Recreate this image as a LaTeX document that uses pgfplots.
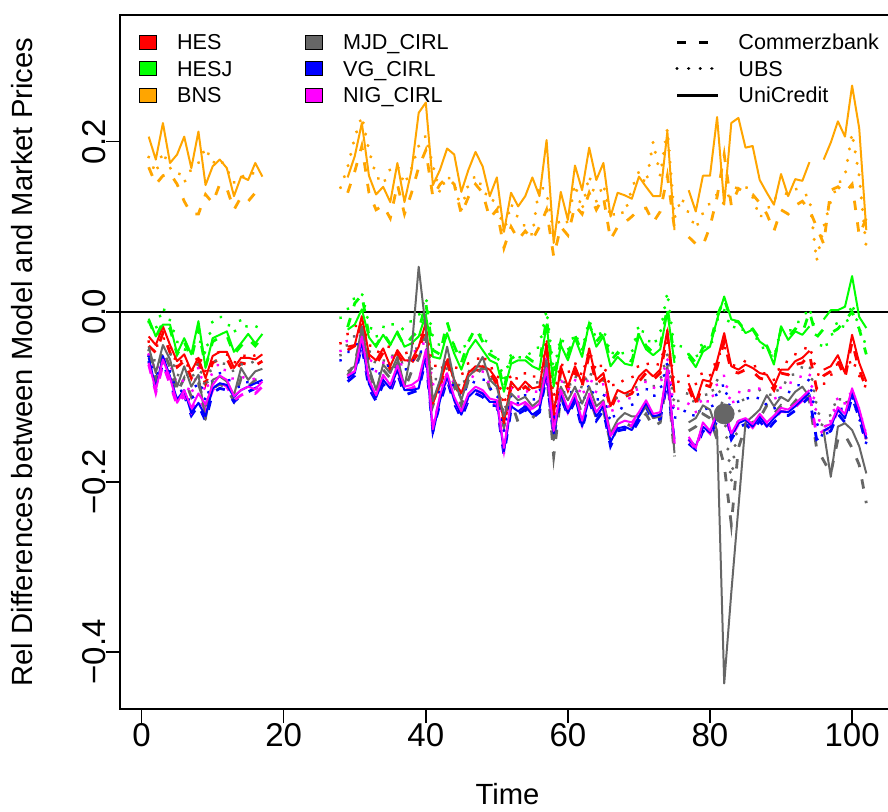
\documentclass[border=0pt]{standalone}
\usepackage{fontspec}
\setmainfont{Liberation Sans}
\usepackage{pgfplots}
\usepackage{pgfplotstable}
\pgfplotsset{compat=1.18}

\definecolor{cHES}{HTML}{FF0000}
\definecolor{cHESJ}{HTML}{00FF00}
\definecolor{cBNS}{HTML}{FFA500}
\definecolor{cMJD}{HTML}{666666}
\definecolor{cVG}{HTML}{0000FF}
\definecolor{cNIG}{HTML}{FF00FF}

% UniCredit (solid)
\pgfplotstableread{
t hes hesj bns mjd vg nig
1 -0.029 -0.008 0.206 -0.041 -0.054 -0.060
2 -0.039 -0.029 0.179 -0.072 -0.090 -0.092
3 -0.017 -0.015 0.222 -0.039 -0.052 -0.056
4 -0.039 -0.015 0.175 -0.056 -0.076 -0.078
5 -0.058 -0.049 0.185 -0.088 -0.103 -0.107
6 -0.050 -0.031 0.206 -0.064 -0.092 -0.092
7 -0.070 -0.050 0.169 -0.088 -0.119 -0.113
8 -0.054 -0.011 0.212 -0.074 -0.107 -0.096
9 -0.078 -0.066 0.149 -0.127 -0.123 -0.109
10 -0.052 -0.031 0.171 -0.080 -0.090 -0.086
11 -0.047 -0.027 0.179 -0.076 -0.084 -0.075
12 -0.047 -0.023 0.169 -0.082 -0.086 -0.080
13 -0.066 -0.047 0.136 -0.098 -0.100 -0.099
14 -0.054 -0.037 0.159 -0.066 -0.092 -0.092
15 -0.054 -0.026 0.155 -0.080 -0.088 -0.088
16 -0.056 -0.037 0.175 -0.070 -0.084 -0.091
17 -0.050 -0.026 0.159 -0.067 -0.080 -0.082
20 nan nan nan nan nan nan
29 -0.041 -0.021 0.158 -0.070 -0.078 -0.075
30 -0.039 -0.015 0.183 -0.064 -0.072 -0.070
31 -0.005 0.003 0.222 -0.017 -0.035 -0.029
32 -0.050 -0.030 0.160 -0.065 -0.085 -0.080
33 -0.057 -0.041 0.138 -0.092 -0.101 -0.098
34 -0.043 -0.027 0.147 -0.062 -0.080 -0.074
35 -0.064 -0.039 0.129 -0.072 -0.090 -0.086
36 -0.045 -0.023 0.175 -0.053 -0.068 -0.063
37 -0.057 -0.041 0.129 -0.088 -0.092 -0.088
38 -0.057 -0.037 0.167 -0.045 -0.092 -0.086
39 -0.041 -0.029 0.234 0.053 -0.090 -0.080
40 -0.013 -0.003 0.246 -0.020 -0.049 -0.045
41 -0.108 -0.053 0.149 -0.105 -0.143 -0.138
42 -0.084 -0.055 0.167 -0.080 -0.104 -0.098
43 -0.057 -0.025 0.192 -0.041 -0.076 -0.072
44 -0.080 -0.049 0.185 -0.080 -0.104 -0.100
45 -0.096 -0.068 0.141 -0.104 -0.121 -0.117
46 -0.072 -0.045 0.167 -0.076 -0.100 -0.096
47 -0.064 -0.033 0.188 -0.068 -0.092 -0.088
48 -0.064 -0.045 0.171 -0.053 -0.096 -0.092
49 -0.068 -0.057 0.136 -0.080 -0.106 -0.102
50 -0.080 -0.061 0.158 -0.088 -0.106 -0.104
51 -0.131 -0.094 0.094 -0.123 -0.164 -0.160
52 -0.082 -0.061 0.140 -0.096 -0.111 -0.106
53 -0.092 -0.057 0.124 -0.104 -0.117 -0.110
54 -0.082 -0.057 0.136 -0.100 -0.111 -0.106
55 -0.090 -0.064 0.158 -0.111 -0.121 -0.114
56 -0.088 -0.068 0.136 -0.104 -0.115 -0.108
57 -0.037 -0.015 0.202 -0.057 -0.070 -0.066
58 -0.121 -0.088 0.081 -0.151 -0.143 -0.140
59 -0.064 -0.039 0.141 -0.088 -0.096 -0.092
60 -0.088 -0.057 0.108 -0.104 -0.119 -0.114
61 -0.064 -0.031 0.172 -0.088 -0.100 -0.096
62 -0.084 -0.053 0.143 -0.108 -0.135 -0.128
63 -0.043 -0.013 0.193 -0.088 -0.100 -0.096
64 -0.080 -0.041 0.155 -0.111 -0.123 -0.118
65 -0.072 -0.029 0.175 -0.104 -0.111 -0.106
66 -0.111 -0.064 0.112 -0.143 -0.153 -0.146
67 -0.092 -0.053 0.140 -0.127 -0.137 -0.132
68 -0.096 -0.061 0.137 -0.119 -0.135 -0.128
69 -0.092 -0.063 0.133 -0.123 -0.139 -0.130
70 -0.076 -0.027 0.159 -0.123 -0.123 -0.118
71 -0.068 -0.044 0.147 -0.111 -0.107 -0.104
72 -0.076 -0.051 0.136 -0.125 -0.123 -0.120
73 -0.068 -0.044 0.136 -0.123 -0.121 -0.118
74 -0.021 0.000 0.212 -0.064 -0.076 -0.068
75 -0.095 -0.060 0.096 -0.166 -0.150 -0.154
76 nan nan nan nan nan nan
77 -0.084 -0.053 0.143 -0.130 -0.150 -0.147
78 -0.106 -0.065 0.118 -0.125 -0.158 -0.160
79 -0.080 -0.047 0.160 -0.110 -0.135 -0.130
80 -0.082 -0.041 0.160 -0.115 -0.142 -0.140
81 -0.058 -0.009 0.229 -0.140 -0.123 -0.118
82 -0.025 0.018 0.126 -0.437 -0.115 -0.112
83 -0.064 -0.009 0.222 -0.330 -0.146 -0.143
84 -0.068 -0.011 0.228 -0.230 -0.131 -0.128
85 -0.062 -0.025 0.193 -0.130 -0.127 -0.125
86 -0.066 -0.021 0.195 -0.123 -0.135 -0.132
87 -0.072 -0.035 0.155 -0.115 -0.123 -0.120
88 -0.074 -0.041 0.140 -0.098 -0.135 -0.130
89 -0.088 -0.062 0.126 -0.111 -0.125 -0.122
90 -0.068 -0.017 0.162 -0.100 -0.117 -0.113
91 -0.068 -0.033 0.136 -0.105 -0.118 -0.115
92 -0.058 -0.023 0.156 -0.094 -0.111 -0.108
93 -0.054 -0.027 0.154 -0.088 -0.103 -0.100
94 -0.046 -0.017 0.176 -0.100 -0.095 -0.092
95 nan nan nan nan nan nan
96 -0.068 -0.009 0.179 -0.140 -0.140 -0.135
97 -0.064 0.002 0.199 -0.194 -0.135 -0.132
98 -0.051 0.002 0.224 -0.135 -0.115 -0.112
99 -0.072 0.006 0.206 -0.131 -0.125 -0.120
100 -0.027 0.042 0.266 -0.139 -0.095 -0.090
101 -0.060 -0.006 0.216 -0.158 -0.119 -0.114
102 -0.082 -0.019 0.096 -0.190 -0.149 -0.145
}\uc

% UBS (dotted)
\pgfplotstableread{
t hes hesj bns mjd vg nig
1 -0.035 -0.012 0.182 -0.045 -0.052 -0.050
2 -0.042 -0.020 0.163 -0.060 -0.075 -0.070
3 -0.030 0.005 0.188 -0.050 -0.060 -0.055
4 -0.040 -0.010 0.169 -0.048 -0.070 -0.062
5 -0.062 -0.035 0.167 -0.075 -0.090 -0.085
6 -0.055 -0.045 0.152 -0.070 -0.095 -0.080
7 -0.072 -0.040 0.168 -0.080 -0.108 -0.098
8 -0.050 -0.030 0.175 -0.060 -0.075 -0.065
9 -0.070 -0.050 0.193 -0.090 -0.105 -0.095
10 -0.058 -0.010 0.175 -0.060 -0.080 -0.070
11 -0.045 -0.005 0.180 -0.055 -0.072 -0.060
12 -0.050 -0.012 0.168 -0.065 -0.078 -0.072
13 -0.060 -0.025 0.152 -0.070 -0.085 -0.080
14 -0.055 -0.008 0.160 -0.062 -0.090 -0.078
15 -0.048 -0.020 0.158 -0.058 -0.082 -0.075
16 -0.052 -0.018 0.165 -0.060 -0.085 -0.080
17 -0.050 -0.015 0.160 -0.062 -0.080 -0.076
20 nan nan nan nan nan nan
28 -0.037 -0.007 0.146 -0.051 -0.057 -0.046
29 -0.026 0.003 0.170 -0.038 -0.048 -0.033
30 -0.018 0.017 0.205 -0.028 -0.040 -0.030
31 -0.010 0.022 0.230 -0.020 -0.035 -0.025
32 -0.038 -0.015 0.190 -0.045 -0.060 -0.052
33 -0.048 -0.030 0.160 -0.062 -0.075 -0.070
34 -0.045 -0.018 0.150 -0.058 -0.070 -0.060
35 -0.040 -0.012 0.168 -0.050 -0.060 -0.052
36 -0.048 -0.020 0.172 -0.055 -0.068 -0.058
37 -0.052 -0.020 0.150 -0.062 -0.070 -0.065
38 -0.038 -0.010 0.169 -0.050 -0.058 -0.050
39 -0.030 -0.005 0.195 -0.040 -0.050 -0.042
40 -0.020 0.018 0.207 -0.030 -0.040 -0.035
41 -0.060 -0.030 0.172 -0.075 -0.090 -0.085
42 -0.070 -0.040 0.140 -0.085 -0.095 -0.090
43 -0.055 -0.028 0.160 -0.065 -0.080 -0.072
44 -0.062 -0.038 0.150 -0.078 -0.088 -0.082
45 -0.075 -0.050 0.120 -0.090 -0.100 -0.095
46 -0.060 -0.030 0.150 -0.070 -0.085 -0.078
47 -0.058 -0.032 0.160 -0.068 -0.082 -0.075
48 -0.050 -0.025 0.146 -0.060 -0.078 -0.070
49 -0.065 -0.045 0.130 -0.078 -0.090 -0.085
50 -0.070 -0.050 0.132 -0.082 -0.095 -0.088
51 -0.110 -0.080 0.093 -0.120 -0.140 -0.130
52 -0.072 -0.050 0.127 -0.085 -0.098 -0.090
53 -0.080 -0.055 0.110 -0.092 -0.108 -0.100
54 -0.072 -0.048 0.100 -0.085 -0.098 -0.092
55 -0.078 -0.050 0.090 -0.090 -0.105 -0.098
56 -0.070 -0.040 0.150 -0.080 -0.095 -0.090
57 -0.030 0.002 0.140 -0.050 -0.060 -0.055
58 -0.100 -0.070 0.093 -0.115 -0.130 -0.120
59 -0.060 -0.030 0.110 -0.075 -0.090 -0.080
60 -0.072 -0.045 0.105 -0.090 -0.100 -0.092
61 -0.060 -0.025 0.150 -0.075 -0.088 -0.080
62 -0.075 -0.045 0.120 -0.090 -0.110 -0.100
63 -0.045 -0.010 0.160 -0.070 -0.085 -0.075
64 -0.070 -0.032 0.130 -0.085 -0.105 -0.095
65 -0.060 -0.020 0.150 -0.078 -0.095 -0.085
66 -0.090 -0.050 0.110 -0.110 -0.130 -0.120
67 -0.080 -0.045 0.120 -0.100 -0.115 -0.105
68 -0.082 -0.050 0.115 -0.098 -0.112 -0.105
69 -0.078 -0.048 0.145 -0.095 -0.110 -0.100
70 -0.062 -0.015 0.165 -0.085 -0.095 -0.088
71 -0.060 -0.030 0.150 -0.080 -0.090 -0.082
72 -0.065 -0.040 0.200 -0.088 -0.100 -0.090
73 -0.060 -0.025 0.160 -0.080 -0.092 -0.085
74 -0.030 0.023 0.215 -0.050 -0.060 -0.055
75 -0.085 -0.045 0.110 -0.110 -0.125 -0.118
76 -0.080 -0.040 0.134 -0.100 -0.118 -0.110
77 -0.075 -0.050 0.116 -0.095 -0.115 -0.108
78 -0.085 -0.055 0.098 -0.110 -0.125 -0.118
79 -0.070 -0.035 0.116 -0.095 -0.110 -0.100
80 -0.075 -0.045 0.128 -0.100 -0.118 -0.108
81 -0.055 -0.010 0.138 -0.080 -0.095 -0.085
82 -0.040 0.002 0.126 -0.120 -0.085 -0.075
83 -0.065 -0.020 0.143 -0.200 -0.120 -0.110
84 -0.060 -0.015 0.147 -0.120 -0.105 -0.095
85 -0.058 -0.025 0.148 -0.095 -0.100 -0.090
86 -0.062 -0.020 0.135 -0.090 -0.105 -0.095
87 -0.068 -0.040 0.111 -0.092 -0.100 -0.090
88 -0.075 -0.045 0.119 -0.095 -0.110 -0.100
89 -0.080 -0.055 0.133 -0.100 -0.115 -0.105
90 -0.062 -0.020 0.136 -0.085 -0.098 -0.088
91 -0.058 -0.025 0.140 -0.082 -0.095 -0.085
92 -0.050 -0.015 0.145 -0.070 -0.090 -0.080
93 -0.045 -0.008 0.140 -0.065 -0.082 -0.075
94 -0.040 0.005 0.135 -0.062 -0.080 -0.072
95 -0.070 -0.030 0.060 -0.110 -0.130 -0.120
96 -0.085 -0.045 0.100 -0.140 -0.150 -0.140
97 -0.075 -0.030 0.130 -0.120 -0.135 -0.128
98 -0.060 -0.010 0.150 -0.100 -0.110 -0.100
99 -0.070 -0.020 0.160 -0.110 -0.118 -0.108
100 -0.055 0.010 0.210 -0.095 -0.100 -0.092
101 -0.075 -0.020 0.160 -0.120 -0.125 -0.115
102 -0.090 -0.040 0.075 -0.150 -0.155 -0.145
}\ubs

% Commerzbank (dashed)
\pgfplotstableread{
t hes hesj bns mjd vg nig
1 -0.040 -0.010 0.170 -0.050 -0.058 -0.062
2 -0.048 -0.030 0.150 -0.080 -0.092 -0.095
3 -0.025 -0.012 0.160 -0.045 -0.060 -0.062
4 -0.048 -0.020 0.163 -0.065 -0.082 -0.085
5 -0.065 -0.050 0.150 -0.095 -0.108 -0.110
6 -0.058 -0.035 0.130 -0.078 -0.098 -0.098
7 -0.078 -0.055 0.115 -0.100 -0.122 -0.118
8 -0.060 -0.020 0.115 -0.085 -0.110 -0.102
9 -0.085 -0.065 0.138 -0.110 -0.128 -0.115
10 -0.060 -0.035 0.128 -0.090 -0.095 -0.092
11 -0.055 -0.030 0.150 -0.085 -0.090 -0.082
12 -0.055 -0.028 0.145 -0.090 -0.092 -0.088
13 -0.072 -0.050 0.120 -0.105 -0.106 -0.104
14 -0.060 -0.040 0.135 -0.078 -0.098 -0.098
15 -0.062 -0.032 0.130 -0.088 -0.094 -0.094
16 -0.063 -0.040 0.140 -0.080 -0.090 -0.096
17 -0.058 -0.030 0.135 -0.078 -0.086 -0.088
20 nan nan nan nan nan nan
29 -0.045 -0.018 0.140 -0.075 -0.082 -0.078
30 -0.040 0.010 0.165 -0.060 -0.075 -0.070
31 -0.010 0.020 0.195 -0.025 -0.040 -0.035
32 -0.055 -0.028 0.140 -0.070 -0.090 -0.085
33 -0.062 -0.040 0.120 -0.095 -0.105 -0.100
34 -0.048 -0.025 0.125 -0.068 -0.085 -0.078
35 -0.068 -0.038 0.110 -0.078 -0.095 -0.090
36 -0.050 -0.025 0.150 -0.060 -0.072 -0.068
37 -0.062 -0.040 0.115 -0.092 -0.098 -0.092
38 -0.060 -0.030 0.140 -0.070 -0.095 -0.090
39 -0.048 -0.022 0.170 -0.055 -0.092 -0.085
40 -0.018 0.010 0.190 -0.030 -0.055 -0.050
41 -0.105 -0.045 0.135 -0.110 -0.140 -0.135
42 -0.088 -0.050 0.150 -0.085 -0.108 -0.102
43 -0.060 -0.012 0.158 -0.050 -0.080 -0.075
44 -0.085 -0.040 0.150 -0.088 -0.108 -0.104
45 -0.100 -0.060 0.115 -0.110 -0.125 -0.120
46 -0.075 -0.035 0.135 -0.080 -0.104 -0.100
47 -0.068 -0.019 0.150 -0.075 -0.096 -0.092
48 -0.070 -0.035 0.140 -0.065 -0.100 -0.096
49 -0.072 -0.050 0.110 -0.090 -0.110 -0.106
50 -0.085 -0.055 0.120 -0.100 -0.110 -0.108
51 -0.135 -0.090 0.075 -0.135 -0.168 -0.162
52 -0.088 -0.055 0.100 -0.105 -0.115 -0.110
53 -0.095 -0.050 0.085 -0.130 -0.120 -0.114
54 -0.088 -0.052 0.095 -0.110 -0.115 -0.110
55 -0.095 -0.058 0.085 -0.125 -0.125 -0.118
56 -0.092 -0.060 0.100 -0.115 -0.118 -0.112
57 -0.042 -0.008 0.120 -0.070 -0.075 -0.070
58 -0.125 -0.080 0.065 -0.170 -0.148 -0.144
59 -0.070 -0.035 0.100 -0.100 -0.100 -0.096
60 -0.092 -0.050 0.090 -0.120 -0.122 -0.118
61 -0.070 -0.028 0.125 -0.098 -0.105 -0.100
62 -0.088 -0.048 0.115 -0.120 -0.138 -0.132
63 -0.050 -0.015 0.140 -0.100 -0.105 -0.100
64 -0.085 -0.035 0.120 -0.125 -0.128 -0.122
65 -0.078 -0.025 0.135 -0.115 -0.116 -0.110
66 -0.115 -0.058 0.085 -0.155 -0.158 -0.150
67 -0.096 -0.048 0.100 -0.135 -0.140 -0.136
68 -0.100 -0.055 0.105 -0.130 -0.138 -0.132
69 -0.096 -0.058 0.112 -0.135 -0.142 -0.134
70 -0.082 -0.025 0.120 -0.130 -0.128 -0.122
71 -0.072 -0.040 0.122 -0.120 -0.112 -0.108
72 -0.080 -0.048 0.105 -0.135 -0.128 -0.124
73 -0.072 -0.040 0.118 -0.130 -0.126 -0.122
74 -0.028 0.005 0.160 -0.075 -0.082 -0.074
75 -0.100 -0.055 0.098 -0.170 -0.155 -0.158
76 nan nan nan nan nan nan
77 -0.090 -0.050 0.088 -0.140 -0.155 -0.150
78 -0.110 -0.060 0.080 -0.135 -0.162 -0.162
79 -0.085 -0.042 0.078 -0.120 -0.140 -0.134
80 -0.088 -0.038 0.100 -0.125 -0.146 -0.143
81 -0.065 -0.005 0.135 -0.150 -0.128 -0.122
82 -0.035 0.015 0.185 -0.180 -0.120 -0.116
83 -0.070 -0.010 0.125 -0.250 -0.150 -0.147
84 -0.072 -0.012 0.145 -0.160 -0.136 -0.132
85 -0.068 -0.022 0.140 -0.135 -0.132 -0.128
86 -0.070 -0.020 0.138 -0.130 -0.140 -0.136
87 -0.078 -0.032 0.128 -0.125 -0.128 -0.124
88 -0.080 -0.040 0.115 -0.110 -0.140 -0.134
89 -0.092 -0.058 0.095 -0.120 -0.130 -0.126
90 -0.072 -0.020 0.120 -0.110 -0.122 -0.117
91 -0.074 -0.030 0.115 -0.115 -0.122 -0.118
92 -0.062 -0.020 0.125 -0.105 -0.116 -0.112
93 -0.060 -0.025 0.130 -0.095 -0.108 -0.104
94 -0.050 0.000 0.120 -0.105 -0.100 -0.096
95 -0.090 -0.030 0.100 -0.160 -0.150 -0.145
96 -0.075 -0.020 0.080 -0.175 -0.145 -0.140
97 -0.070 -0.025 0.143 -0.190 -0.140 -0.136
98 -0.058 -0.020 0.147 -0.150 -0.120 -0.116
99 -0.078 -0.010 0.140 -0.145 -0.130 -0.124
100 -0.035 0.000 0.150 -0.160 -0.100 -0.094
101 -0.068 -0.020 0.090 -0.180 -0.125 -0.118
102 -0.090 -0.050 0.110 -0.225 -0.155 -0.150
}\cb

\tikzset{
  uc/.style={line width=1pt, line join=round},
  ubs/.style={line width=1.7pt, line cap=round, dash pattern=on 0.01pt off 5.8pt},
  cb/.style={line width=1.4pt, dash pattern=on 4.7pt off 6.2pt},
}

\begin{document}
\begin{tikzpicture}
\begin{axis}[
    name=ax,
    scale only axis,
    width=387.5pt,
    height=347pt,
    xmin=-3.04, xmax=106.04,
    ymin=-0.467, ymax=0.349,
    unbounded coords=jump,
    axis line style={line width=0.75pt},
    tick style={line width=0.75pt, black},
    tick align=outside,
    major tick length=7pt,
    xtick pos=bottom,
    ytick pos=left,
    xtick={0,20,40,60,80,100},
    ytick={-0.4,-0.2,0,0.2},
    yticklabels={−0.4,−0.2,0.0,0.2},
    /pgf/number format/assume math mode=true,
    tick label style={font=\fontsize{16.5}{18}\selectfont},
    xticklabel style={anchor=north, inner sep=0pt},
    yticklabel style={rotate=90, anchor=south, inner sep=0pt},
    xlabel={Time},
    ylabel={Rel Differences between Model and Market Prices},
    label style={font=\fontsize{14.6}{16}\selectfont, inner sep=0pt},
    xlabel style={at={(axis description cs:0.5,-0.1375)}, anchor=base},
    ylabel style={at={(axis description cs:-0.1123,0.5)}, anchor=base},
]
\addplot[black, line width=0.75pt] coordinates {(-5,0) (110,0)};

% Commerzbank
\addplot[cb, cHES]  table[x=t, y=hes]  {\cb};
\addplot[cb, cHESJ] table[x=t, y=hesj] {\cb};
\addplot[cb, cBNS]  table[x=t, y=bns]  {\cb};
\addplot[cb, cMJD]  table[x=t, y=mjd]  {\cb};
\addplot[cb, cVG]   table[x=t, y=vg]   {\cb};
\addplot[cb, cNIG]  table[x=t, y=nig]  {\cb};
% UBS
\addplot[ubs, cHES]  table[x=t, y=hes]  {\ubs};
\addplot[ubs, cHESJ] table[x=t, y=hesj] {\ubs};
\addplot[ubs, cBNS]  table[x=t, y=bns]  {\ubs};
\addplot[ubs, cMJD]  table[x=t, y=mjd]  {\ubs};
\addplot[ubs, cVG]   table[x=t, y=vg]   {\ubs};
\addplot[ubs, cNIG]  table[x=t, y=nig]  {\ubs};
% UniCredit
\addplot[uc, cHES]  table[x=t, y=hes]  {\uc};
\addplot[uc, cHESJ] table[x=t, y=hesj] {\uc};
\addplot[uc, cBNS]  table[x=t, y=bns]  {\uc};
\addplot[uc, cMJD]  table[x=t, y=mjd]  {\uc};
\addplot[uc, cVG]   table[x=t, y=vg]   {\uc};
\addplot[uc, cNIG]  table[x=t, y=nig]  {\uc};

\addplot[only marks, mark=*, mark size=5pt, cMJD] coordinates {(82,-0.12)};
\end{axis}

% legends (offsets in reference pixels from the axis' top left corner)
\begin{scope}[shift={(ax.north west)}, x=0.5pt, y=-0.5pt,
    lab/.style={anchor=base west, inner sep=0pt, font=\fontsize{10.8}{12}\selectfont}]
  \foreach \c/\n/\yy in {cHES/HES/27.5, cHESJ/HESJ/53.5, cBNS/BNS/80.5} {
    \filldraw[fill=\c, draw=black, line width=0.5pt] (19.5,\yy-6.8) rectangle (36,\yy+6.8);
    \node[lab] at (56.7,\yy+7.5) {\n};
  }
  \foreach \c/\n/\yy in {cMJD/MJD\_CIRL/27.5, cVG/VG\_CIRL/53.5, cNIG/NIG\_CIRL/80.5} {
    \filldraw[fill=\c, draw=black, line width=0.5pt] (185.7,\yy-6.8) rectangle (202.3,\yy+6.8);
    \node[lab] at (222.7,\yy+7.5) {\n};
  }
  \draw[cb] (557,27.5) -- (598,27.5);
  \draw[ubs] (557,53.5) -- (598,53.5);
  \draw[uc, line width=1.3pt] (557,80.5) -- (598,80.5);
  \node[lab] at (618,35) {Commerzbank};
  \node[lab] at (618,61) {UBS};
  \node[lab] at (618,88) {UniCredit};
\end{scope}

\pgfresetboundingbox
\begin{scope}[shift={(ax.south west)}]
  \useasboundingbox (-60pt,-51pt) rectangle (384pt,354.5pt);
\end{scope}
\end{tikzpicture}
\end{document}
